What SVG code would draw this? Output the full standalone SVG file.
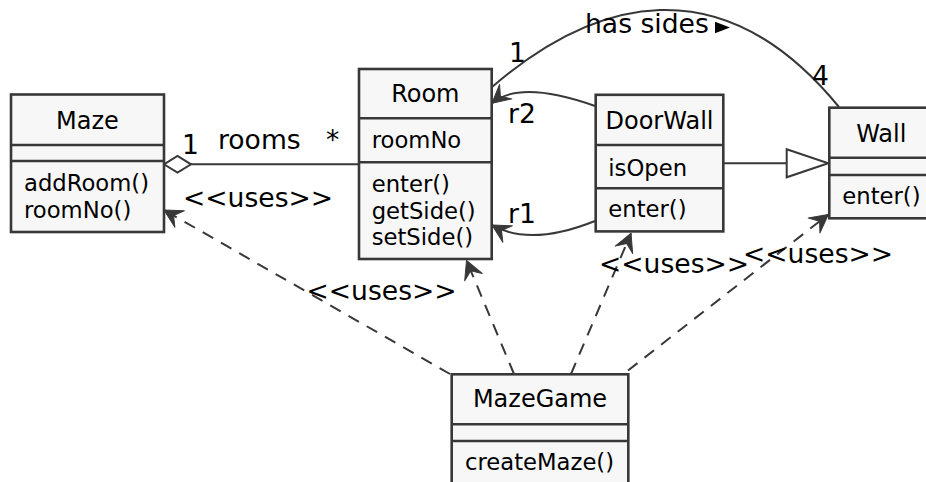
<svg xmlns="http://www.w3.org/2000/svg" width="926" height="482" viewBox="0 0 926 482">
  <style>
    .box { fill: #f7f7f7; stroke: #383838; stroke-width: 2.6; }
    .sep { stroke: #383838; stroke-width: 2.6; }
    .title { font-family: "DejaVu Sans", sans-serif; font-size: 24px; fill: #000; text-anchor: middle; }
    .member { font-family: "DejaVu Sans", sans-serif; font-size: 22.7px; fill: #000; }
    .label { font-family: "DejaVu Sans", sans-serif; font-size: 26.6px; fill: #000; }
    .edge { fill: none; stroke: #383838; stroke-width: 2; }
    .dashed { stroke-dasharray: 12 9; }
  </style>
  <defs>
    <marker id="arrow" viewBox="-20 -11 21 22" refX="0" refY="0" markerWidth="21" markerHeight="22" markerUnits="userSpaceOnUse" orient="auto" overflow="visible">
      <path d="M0,0 L-18,-9.5 L-11,0 L-18,9.5 Z" fill="#383838" stroke="#383838" stroke-width="1" stroke-linejoin="round"/>
    </marker>
  </defs>

  <rect width="926" height="482" fill="#ffffff"/>

  <!-- connectors -->
  <g id="connectors">
    <!-- Maze aggregates Room -->
    <line class="edge" x1="191" y1="164.3" x2="359" y2="164.3"/>
    <polygon points="164,164.3 177.5,156 191,164.3 177.5,172.6" fill="#ffffff" stroke="#383838" stroke-width="2"/>
    <text class="label" x="182" y="154">1</text>
    <text class="label" x="218" y="149">rooms</text>
    <text class="label" x="326" y="149">*</text>

    <!-- Room has sides Wall -->
    <path class="edge" d="M492,87 C594.7,-1.3 721.3,-36.6 839,107"/>
    <text class="label" x="585" y="33">has sides</text>
    <polygon points="715,21.7 730,27.5 715,33.3" fill="#000000"/>
    <text class="label" x="509" y="62">1</text>
    <text class="label" x="812" y="85">4</text>

    <!-- DoorWall to Room: r2 and r1 -->
    <path class="edge" d="M595,106 Q520,79.5 492,103.3" marker-end="url(#arrow)"/>
    <text class="label" x="508" y="122.5">r2</text>
    <path class="edge" d="M595,221 Q530,247 492,225" marker-end="url(#arrow)"/>
    <text class="label" x="508" y="222.5">r1</text>

    <!-- DoorWall generalizes Wall -->
    <line class="edge" x1="723" y1="163.3" x2="786.7" y2="163.3"/>
    <polygon points="786.7,149.3 828.3,163.3 786.7,177.3" fill="#ffffff" stroke="#383838" stroke-width="2"/>

    <!-- MazeGame uses ... -->
    <line class="edge dashed" x1="450" y1="374" x2="164" y2="210" marker-end="url(#arrow)"/>
    <text class="label" x="183" y="206.5">&lt;&lt;uses&gt;&gt;</text>
    <line class="edge dashed" x1="514" y1="374" x2="466.5" y2="260.5" marker-end="url(#arrow)"/>
    <text class="label" x="306.5" y="300">&lt;&lt;uses&gt;&gt;</text>
    <line class="edge dashed" x1="571" y1="374" x2="631" y2="233.3" marker-end="url(#arrow)"/>
    <text class="label" x="599" y="273.3">&lt;&lt;uses&gt;&gt;</text>
    <line class="edge dashed" x1="628" y1="370.5" x2="828.3" y2="214.5" marker-end="url(#arrow)"/>
    <text class="label" x="743" y="263.3">&lt;&lt;uses&gt;&gt;</text>
  </g>

  <!-- classes -->
  <g id="Maze">
    <rect class="box" x="11" y="94.5" width="153" height="137.5"/>
    <line class="sep" x1="11" y1="145" x2="164" y2="145"/>
    <line class="sep" x1="11" y1="161" x2="164" y2="161"/>
    <text class="title" x="87.5" y="129">Maze</text>
    <text class="member" x="24" y="191">addRoom()</text>
    <text class="member" x="24" y="218">roomNo()</text>
  </g>

  <g id="Room">
    <rect class="box" x="359" y="69" width="132.7" height="190"/>
    <line class="sep" x1="359" y1="118.3" x2="491.7" y2="118.3"/>
    <line class="sep" x1="359" y1="162.3" x2="491.7" y2="162.3"/>
    <text class="title" x="425.3" y="101.7">Room</text>
    <text class="member" x="371.7" y="148">roomNo</text>
    <text class="member" x="371.7" y="192.3">enter()</text>
    <text class="member" x="371.7" y="218.5">getSide()</text>
    <text class="member" x="371.7" y="244.7">setSide()</text>
  </g>

  <g id="DoorWall">
    <rect class="box" x="595.7" y="94.8" width="127.6" height="136.6"/>
    <line class="sep" x1="595.7" y1="145" x2="723.3" y2="145"/>
    <line class="sep" x1="595.7" y1="188.3" x2="723.3" y2="188.3"/>
    <text class="title" x="659.5" y="129.3">DoorWall</text>
    <text class="member" x="608.3" y="175.5">isOpen</text>
    <text class="member" x="608.3" y="216.5">enter()</text>
  </g>

  <g id="Wall">
    <rect class="box" x="829.3" y="107.7" width="104" height="110.6"/>
    <line class="sep" x1="829.3" y1="157.7" x2="933.3" y2="157.7"/>
    <line class="sep" x1="829.3" y1="175" x2="933.3" y2="175"/>
    <text class="title" x="881.3" y="141.7">Wall</text>
    <text class="member" x="842.3" y="204">enter()</text>
  </g>

  <g id="MazeGame">
    <rect class="box" x="451.7" y="374.3" width="176.6" height="120"/>
    <line class="sep" x1="451.7" y1="424.3" x2="628.3" y2="424.3"/>
    <line class="sep" x1="451.7" y1="441" x2="628.3" y2="441"/>
    <text class="title" x="540" y="406.7">MazeGame</text>
    <text class="member" x="465" y="470">createMaze()</text>
  </g>
</svg>
